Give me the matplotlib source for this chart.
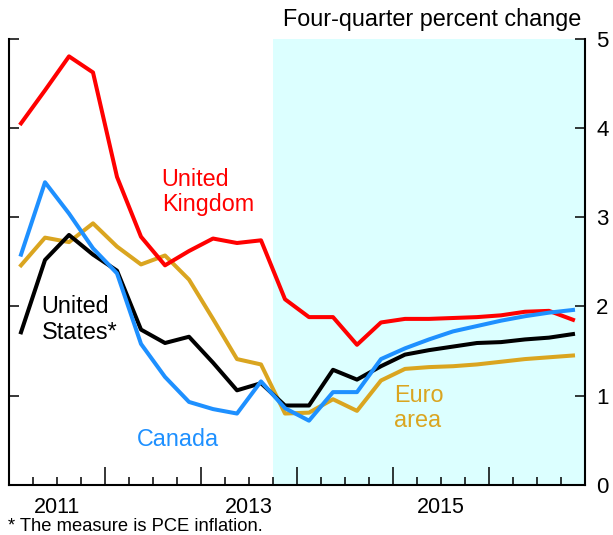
import numpy as np
import pandas as pd
import matplotlib
matplotlib.use("Agg")
import matplotlib.pyplot as plt

plt.rcParams['font.family'] = ['Liberation Sans', 'DejaVu Sans']

# Quarterly data, 2011Q1 - 2016Q4 (four-quarter percent change)
quarters = pd.period_range("2011Q1", "2016Q4", freq="Q")
uk = [4.05, 4.42, 4.80, 4.62, 3.45, 2.78, 2.46, 2.62, 2.76, 2.71, 2.74, 2.08,
      1.88, 1.88, 1.57, 1.82, 1.86, 1.86, 1.87, 1.88, 1.90, 1.94, 1.95, 1.85]
canada = [2.58, 3.39, 3.04, 2.65, 2.37, 1.58, 1.21, 0.93, 0.85, 0.80, 1.16, 0.86,
          0.72, 1.04, 1.04, 1.41, 1.53, 1.63, 1.72, 1.78, 1.84, 1.89, 1.93, 1.96]
euro = [2.46, 2.77, 2.72, 2.93, 2.67, 2.47, 2.57, 2.30, 1.86, 1.41, 1.35, 0.80,
        0.81, 0.96, 0.83, 1.17, 1.30, 1.32, 1.33, 1.35, 1.38, 1.41, 1.43, 1.45]
us = [1.71, 2.52, 2.80, 2.58, 2.40, 1.74, 1.59, 1.66, 1.37, 1.06, 1.14, 0.89,
      0.89, 1.29, 1.18, 1.33, 1.46, 1.51, 1.55, 1.59, 1.60, 1.63, 1.65, 1.69]

forecast_start = 2013.75
year_labels = [2011, 2013, 2015]

# plot quarters at the middle of each quarter
x = np.array([q.year + (q.quarter - 1) / 4 + 0.125 for q in quarters])

fig = plt.figure(figsize=(6.13, 5.35), dpi=100)
ax = fig.add_axes([0.0147, 0.0935, 0.9396, 0.8345])

ax.axvspan(forecast_start, 2017, color='#DCFFFF', lw=0, zorder=0)

ax.plot(x, euro, color='#DAA520', lw=2.9, zorder=2)
ax.plot(x, us, color='black', lw=2.9, zorder=3)
ax.plot(x, uk, color='#FF0000', lw=2.9, zorder=4)
ax.plot(x, canada, color='#1E90FF', lw=2.9, zorder=5)

ax.set_xlim(2011, 2017)
ax.set_ylim(0, 5)

# series labels
fs = 16.8
ax.text(2012.59, 3.55, "United\nKingdom", color='#FF0000', fontsize=fs,
        ha='left', va='top', linespacing=1.13)
ax.text(2011.34, 2.125, "United\nStates*", color='black', fontsize=fs,
        ha='left', va='top', linespacing=1.13)
ax.text(2012.33, 0.437, "Canada", color='#1E90FF', fontsize=fs,
        ha='left', va='baseline')
ax.text(2015.01, 1.13, "Euro\narea", color='#DAA520', fontsize=fs,
        ha='left', va='top', linespacing=1.13)

# axes styling
ax.spines['top'].set_visible(False)
for s in ['left', 'right', 'bottom']:
    ax.spines[s].set_linewidth(1.5)

ax.set_yticks(range(0, 6))
ax.tick_params(axis='y', which='both', direction='in', left=True, right=True,
               labelleft=False, labelright=True, length=7, width=1.1,
               pad=8, labelsize=16)

ax.set_xticks(range(2012, 2017))
ax.set_xticks([q for q in np.arange(2011.25, 2017, 0.25) if q % 1 != 0], minor=True)
ax.tick_params(axis='x', which='major', direction='in', length=13, width=1.1,
               labelbottom=False)
ax.tick_params(axis='x', which='minor', direction='in', length=6, width=1.1)

for yr in year_labels:
    ax.text(yr + 0.5, -0.028, str(yr), transform=ax.get_xaxis_transform(),
            ha='center', va='top', fontsize=15.5)

fig.text(0.948, 0.952, "Four-quarter percent change", ha='right', va='baseline',
         fontsize=fs)
fig.text(0.013, 0.008, "* The measure is PCE inflation.", ha='left',
         va='baseline', fontsize=13.2)

fig.savefig("out.png", dpi=100)
